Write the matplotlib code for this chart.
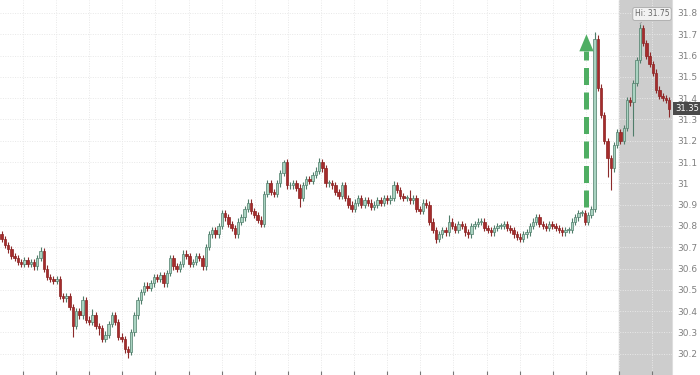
import numpy as np
import matplotlib
matplotlib.use("Agg")
import matplotlib.pyplot as plt

# closing prices, one per candle
closes = [
    30.74, 30.71, 30.69, 30.66, 30.65, 30.63, 30.62, 30.64, 30.62, 30.63,
    30.61, 30.65, 30.68, 30.60, 30.56, 30.55, 30.54, 30.55, 30.47, 30.46,
    30.47, 30.42, 30.33, 30.40, 30.38, 30.45, 30.36, 30.35, 30.38, 30.33,
    30.32, 30.27, 30.29, 30.34, 30.38, 30.35, 30.28, 30.27, 30.22, 30.21,
    30.30, 30.38, 30.45, 30.49, 30.52, 30.51, 30.53, 30.56, 30.55, 30.57,
    30.53, 30.58, 30.65, 30.61, 30.60, 30.62, 30.67, 30.66, 30.62, 30.63,
    30.66, 30.65, 30.61, 30.70, 30.76, 30.78, 30.76, 30.80, 30.86, 30.84,
    30.81, 30.79, 30.76, 30.82, 30.84, 30.88, 30.91, 30.87, 30.85, 30.83,
    30.81, 30.95, 31.00, 30.96, 30.95, 31.00, 31.05, 31.10, 30.99, 30.99,
    31.00, 30.98, 30.93, 30.99, 31.02, 31.01, 31.04, 31.06, 31.10, 31.07,
    31.00, 31.00, 30.99, 30.96, 30.94, 30.99, 30.93, 30.90, 30.88, 30.91,
    30.93, 30.90, 30.92, 30.91, 30.89, 30.90, 30.92, 30.91, 30.93, 30.92,
    30.93, 30.99, 30.97, 30.94, 30.93, 30.93, 30.92, 30.93, 30.88, 30.87,
    30.91, 30.90, 30.82, 30.78, 30.74, 30.76, 30.78, 30.77, 30.82, 30.80,
    30.78, 30.81, 30.80, 30.77, 30.76, 30.80, 30.81, 30.82, 30.82, 30.79,
    30.78, 30.77, 30.79, 30.80, 30.80, 30.81, 30.79, 30.78, 30.76, 30.75,
    30.74, 30.76, 30.77, 30.80, 30.82, 30.84, 30.81, 30.80, 30.79, 30.81,
    30.80, 30.79, 30.78, 30.77, 30.78, 30.78, 30.82, 30.84, 30.86, 30.86,
    30.82, 30.85, 30.88, 31.68, 31.45, 31.32, 31.20, 31.12, 31.07, 31.18,
    31.24, 31.20, 31.26, 31.39, 31.38, 31.47, 31.58, 31.73, 31.66, 31.60,
    31.56, 31.52, 31.44, 31.41, 31.40, 31.39, 31.35,
]
first_open = 30.76

# long wicks visible on the chart (candle index -> price)
wick_highs = {12: 30.70, 25: 30.47, 28: 30.41, 87: 31.11, 98: 31.12,
              121: 31.01, 126: 30.97, 138: 30.85, 183: 31.71, 197: 31.75}
wick_lows = {22: 30.28, 30: 30.29, 39: 30.18, 92: 30.89, 134: 30.72,
             187: 31.03, 188: 30.97, 195: 31.22, 206: 31.31}

y_ticks = [30.2, 30.3, 30.4, 30.5, 30.6, 30.7, 30.8, 30.9, 31.0,
           31.1, 31.2, 31.3, 31.4, 31.5, 31.6, 31.7, 31.8]
last_price = 31.35
high_price = 31.75
high_idx = 197
shade_start = 190.5
arrow_idx = 180.5
arrow_from = 30.89
arrow_to = 31.70

n = len(closes)
idx = np.arange(n)
opens = [first_open] + closes[:-1]
highs = [wick_highs.get(i, max(o, c) + 0.015) for i, (o, c) in enumerate(zip(opens, closes))]
lows = [wick_lows.get(i, min(o, c) - 0.015) for i, (o, c) in enumerate(zip(opens, closes))]

fig = plt.figure(figsize=(7, 3.75), dpi=100)
ax = fig.add_axes([0, 0, 672 / 700, 1])

ax.axvspan(shade_start, n + 5, color="#cdcdcd", zorder=0)

up = np.array(closes) >= np.array(opens)
body_lo = np.minimum(opens, closes)
body_h = np.maximum(np.abs(np.array(closes) - np.array(opens)), 0.004)

ax.vlines(idx[up], np.array(lows)[up], np.array(highs)[up], color="#4f7d6a", lw=0.8, zorder=2)
ax.vlines(idx[~up], np.array(lows)[~up], np.array(highs)[~up], color="#8c2a2a", lw=0.8, zorder=2)
ax.bar(idx[up], body_h[up], bottom=body_lo[up], width=0.75,
       color="#a9d3c1", edgecolor="#4f7d6a", linewidth=0.5, zorder=3)
ax.bar(idx[~up], body_h[~up], bottom=body_lo[~up], width=0.75,
       color="#a52c2c", edgecolor="#8c2222", linewidth=0.5, zorder=3)

# green dashed arrow
head = 0.08
ax.plot([arrow_idx, arrow_idx], [arrow_from, arrow_to - head], color="#4fae63",
        lw=3.6, dashes=(3.4, 1.5), solid_capstyle="butt", zorder=4)
ax.fill([arrow_idx - 2.2, arrow_idx + 2.2, arrow_idx],
        [arrow_to - head, arrow_to - head, arrow_to], color="#4fae63", lw=0, zorder=4)

ax.set_xlim(-0.5, 206.9)
ax.set_ylim(30.10, 31.861)

ax.set_yticks(y_ticks)
ax.yaxis.tick_right()
ax.yaxis.set_major_formatter(matplotlib.ticker.FormatStrFormatter("%g"))
ax.tick_params(axis="y", length=0, labelsize=6.5, labelcolor="#808080", pad=4)
ax.set_xticks(np.arange(6.6, 207, 10.22))
ax.tick_params(axis="x", direction="in", length=3, color="#777777", labelbottom=False)
ax.grid(True, color="#e8e8e8", linestyle=(0, (1, 1.5)), linewidth=0.7)
ax.set_axisbelow(True)

for s in ["left", "top", "bottom"]:
    ax.spines[s].set_visible(False)
ax.spines["right"].set_color("#dddddd")

ax.annotate("Hi: 31.75", xy=(high_idx, high_price), xytext=(652, 361), textcoords="figure pixels",
            ha="center", va="center", fontsize=5.5, color="#666666",
            bbox=dict(boxstyle="round,pad=0.25", fc="#f2f2f2", ec="#aaaaaa", lw=0.6),
            arrowprops=dict(arrowstyle="-", color="#888888", lw=0.5))

ax.text(1.005, (last_price - 30.10) / (31.861 - 30.10), f"{last_price:.2f}", transform=ax.transAxes,
        ha="left", va="center", fontsize=6, color="white",
        bbox=dict(boxstyle="square,pad=0.25", fc="#4a4a4a", ec="none"))

fig.savefig("out.png", dpi=100)
